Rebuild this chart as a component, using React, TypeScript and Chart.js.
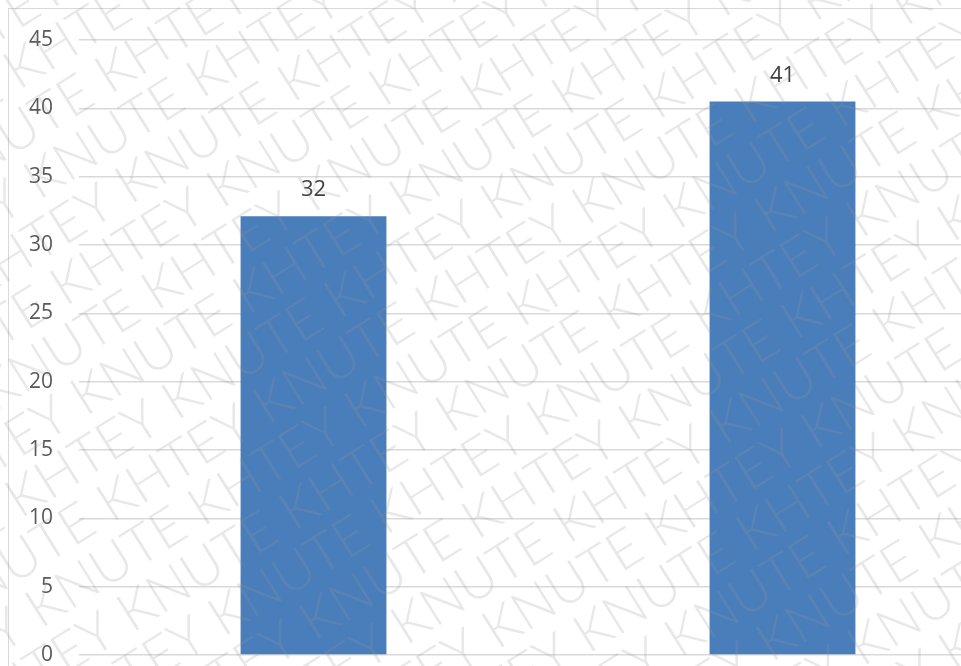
import React, { useEffect, useRef } from "react";
import { Chart, registerables } from "chart.js";

Chart.register(...registerables);

const categories = ["1", "2"];
const seriesValues = [32.1, 40.5];
const yMin = 0;
const yMax = 45;
const yStep = 5;
const watermarkText = "KHTEY KNUTE";

const borderPlugin = {
  id: "frameBorder",
  beforeDraw(chart: any) {
    const ctx = chart.ctx;
    ctx.save();
    ctx.fillStyle = "#ffffff";
    ctx.fillRect(0, 0, chart.width, chart.height);
    ctx.strokeStyle = "#d9d9d9";
    ctx.lineWidth = 1;
    ctx.strokeRect(8.5, 8.5, chart.width - 8, chart.height - 8);
    ctx.restore();
  },
};

const labelPlugin = {
  id: "barLabels",
  afterDatasetsDraw(chart: any) {
    const ctx = chart.ctx;
    const meta = chart.getDatasetMeta(0);
    ctx.save();
    ctx.font = "22px 'Open Sans', 'Liberation Sans', sans-serif";
    ctx.fillStyle = "#404040";
    ctx.textAlign = "center";
    ctx.textBaseline = "alphabetic";
    meta.data.forEach((bar: any, i: number) => {
      ctx.fillText(String(Math.round(seriesValues[i])), bar.x, bar.y - 20);
    });
    ctx.restore();
  },
};

const watermarkPlugin = {
  id: "watermark",
  afterDraw(chart: any) {
    const ctx = chart.ctx;
    const angle = (32 * Math.PI) / 180;
    ctx.save();
    ctx.font = "300 54px Lato, 'Liberation Sans', sans-serif";
    ctx.fillStyle = "rgba(150,150,150,0.22)";
    ctx.textBaseline = "alphabetic";
    ctx.rotate(-angle);
    const unit = watermarkText + " ";
    const period = ctx.measureText(unit).width;
    const line = Array(16).fill(unit).join("");
    const spacing = 52;
    const v0 = 399;
    const u0 = 43;
    const shift = period * 0.2;
    for (let n = -10; n < 20; n++) {
      const v = v0 + n * spacing;
      let u = u0 + n * shift;
      u = u - Math.ceil((u + 700) / period) * period;
      ctx.fillText(line, u, v);
    }
    ctx.restore();
  },
};

export default function App() {
  const ref = useRef<HTMLCanvasElement | null>(null);
  useEffect(() => {
    if (!ref.current) return;
    const chart = new Chart(ref.current, {
      type: "bar",
      data: {
        labels: categories,
        datasets: [
          {
            data: seriesValues,
            backgroundColor: "#4A7EBB",
            borderWidth: 0,
            barPercentage: 0.311,
            categoryPercentage: 1,
          },
        ],
      },
      options: {
        animation: false,
        responsive: false,
        maintainAspectRatio: false,
        layout: { padding: { left: 0, top: 40, right: 33, bottom: 65 } },
        plugins: {
          legend: { display: false },
          tooltip: { enabled: false },
        },
        scales: {
          x: { display: false },
          y: {
            min: yMin,
            max: yMax,
            ticks: {
              stepSize: yStep,
              padding: 26,
              color: "#595959",
              font: { family: "'Open Sans', 'Liberation Sans', sans-serif", size: 21 },
            },
            border: { display: false },
            grid: { color: "#d9d9d9", lineWidth: 1.5, drawTicks: false },
            afterFit(scale: any) {
              scale.width = 79;
            },
          },
        },
      },
      plugins: [borderPlugin, labelPlugin, watermarkPlugin],
    });
    return () => chart.destroy();
  }, []);
  return (
    <div style={{ position: "fixed", left: 0, top: 0, width: 961, height: 666, overflow: "hidden", background: "#fff" }}>
      <canvas ref={ref} width={1050} height={720} style={{ display: "block" }} />
    </div>
  );
}
